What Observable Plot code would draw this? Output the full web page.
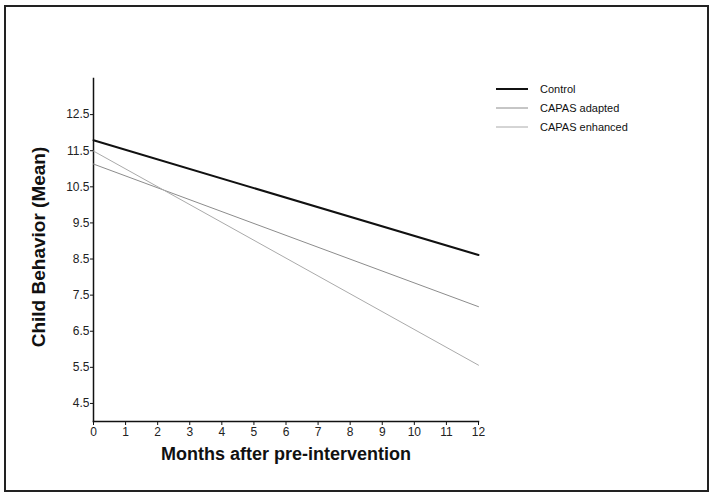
<!DOCTYPE html>
<html>
<head>
<meta charset="utf-8">
<script src="https://cdn.jsdelivr.net/npm/d3@7"></script>
<script src="https://cdn.jsdelivr.net/npm/@observablehq/plot@0.6"></script>
<style>
  html, body { margin: 0; padding: 0; background: #fff; }
  #wrap { position: relative; width: 714px; height: 497px; font-family: "Liberation Sans", Arial, sans-serif; }
  #frame { position: absolute; left: 4px; top: 5px; width: 701px; height: 483px; border: 2px solid #222; pointer-events: none; }
  #legend { position: absolute; left: 496px; top: 79px; font-size: 11px; color: #111; }
  .row { height: 19.4px; display: flex; align-items: center; }
  .sw { width: 32px; margin-right: 12px; }
</style>
</head>
<body>
<div id="wrap"><div id="chart"></div><div id="frame"></div><div id="legend"></div></div>
<script>
const months = [0, 12];
const seriesNames = ["Control", "CAPAS adapted", "CAPAS enhanced"];
const control = [11.79, 8.61];
const adapted = [11.13, 7.18];
const enhanced = [11.49, 5.56];
const yTicks = [4.5, 5.5, 6.5, 7.5, 8.5, 9.5, 10.5, 11.5, 12.5];
const xTicks = [0, 1, 2, 3, 4, 5, 6, 7, 8, 9, 10, 11, 12];

const colors = {"Control": "#111", "CAPAS adapted": "#8c8c8c", "CAPAS enhanced": "#aaaaaa"};
const widths = {"Control": 2, "CAPAS adapted": 1, "CAPAS enhanced": 1};

const values = [control, adapted, enhanced];
const data = [];
seriesNames.forEach((s, i) => months.forEach((m, j) => data.push({series: s, month: m, value: values[i][j]})));

const chart = Plot.plot({
  width: 714,
  height: 497,
  marginLeft: 93,
  marginRight: 236,
  marginTop: 78,
  marginBottom: 76,
  style: {fontFamily: "Liberation Sans, Arial, sans-serif", fontSize: "12px", color: "#222"},
  x: {domain: [0, 12]},
  y: {domain: [4.0, 13.5]},
  marks: [
    Plot.axisX(xTicks, {tickSize: 4, tickPadding: 2, fontSize: 12, label: null, stroke: "#111", fill: "#222"}),
    Plot.axisY(yTicks, {tickSize: 3, tickPadding: 1, fontSize: 12, tickFormat: d => d.toFixed(1), label: null, stroke: "#111", fill: "#222"}),
    Plot.frame({anchor: "left", stroke: "#111", strokeWidth: 1.5}),
    Plot.frame({anchor: "bottom", stroke: "#111", strokeWidth: 1.5}),
    ...seriesNames.map(s => Plot.line(data.filter(d => d.series === s), {
      x: "month", y: "value", stroke: colors[s], strokeWidth: widths[s]
    })),
    Plot.text(["Months after pre-intervention"], {
      frameAnchor: "bottom", dy: 38, fontSize: 18, fontWeight: "bold", fill: "#111", text: d => d
    }),
    Plot.text(["Child Behavior (Mean)"], {
      frameAnchor: "left", textAnchor: "middle", dx: -55, dy: -3, rotate: -90, fontSize: 19, fontWeight: "bold", fill: "#111", text: d => d
    })
  ]
});
document.getElementById("chart").appendChild(chart);

const legend = document.getElementById("legend");
seriesNames.forEach(s => {
  const row = document.createElement("div");
  row.className = "row";
  row.innerHTML = `<svg class="sw" width="32" height="4"><line x1="0" x2="32" y1="2" y2="2" stroke="${colors[s]}" stroke-width="${widths[s]}"/></svg><span>${s}</span>`;
  legend.appendChild(row);
});
</script>
</body>
</html>
